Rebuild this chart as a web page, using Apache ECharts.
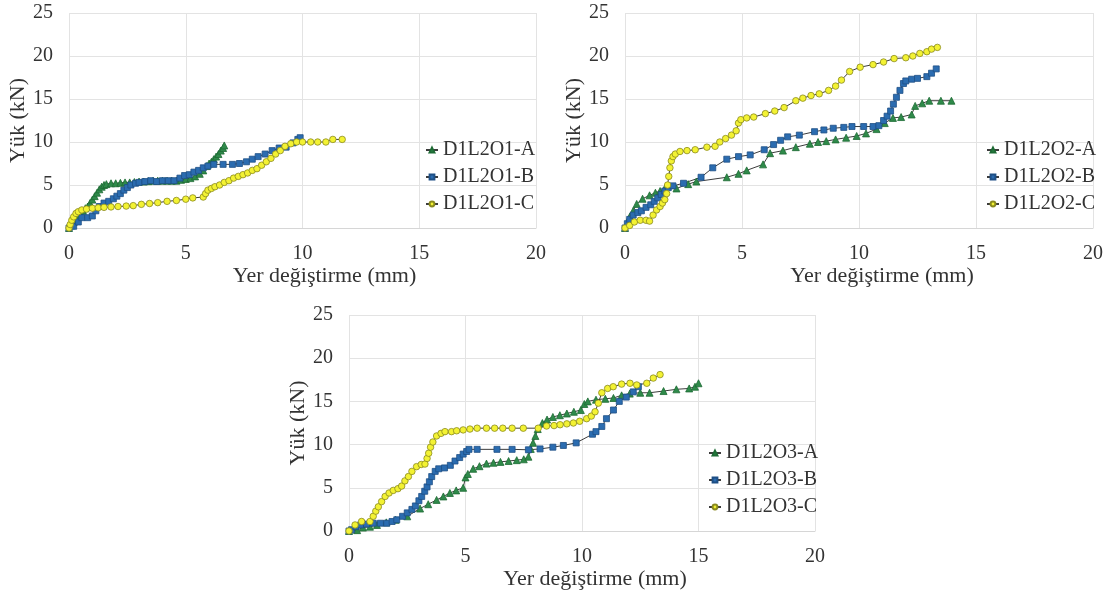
<!DOCTYPE html>
<html>
<head>
<meta charset="utf-8">
<script src="https://cdn.jsdelivr.net/npm/echarts@6/dist/echarts.min.js"></script>
<style>
html,body{margin:0;padding:0;background:#fff;}
#c{width:1110px;height:596px;}
</style>
</head>
<body>
<div id="c"></div>
<script>
// ---- data (displacement mm, load kN) ----
const xTicks = [0, 5, 10, 15, 20];
const yTicks = [0, 5, 10, 15, 20, 25];
const xTitle = 'Yer değiştirme (mm)';
const yTitle = 'Yük (kN)';

const names1 = ['D1L2O1-A', 'D1L2O1-B', 'D1L2O1-C'];
const names2 = ['D1L2O2-A', 'D1L2O2-B', 'D1L2O2-C'];
const names3 = ['D1L2O3-A', 'D1L2O3-B', 'D1L2O3-C'];

const D1L2O1_A = [[0,0],[0.1,0.3],[0.2,0.7],[0.3,1.0],[0.4,1.4],[0.5,1.7],[0.6,2.0],[0.7,2.3],[0.8,2.5],[0.9,2.9],[1.0,3.3],[1.1,3.7],[1.2,4.1],[1.3,4.5],[1.4,4.8],[1.5,5.0],[1.6,5.1],[1.8,5.2],[2.0,5.2],[2.2,5.25],[2.4,5.3],[2.6,5.3],[2.8,5.35],[3.0,5.4],[3.2,5.4],[3.4,5.45],[3.6,5.5],[3.8,5.5],[4.0,5.5],[4.2,5.5],[4.4,5.5],[4.6,5.5],[4.8,5.6],[5.0,5.7],[5.2,5.8],[5.4,6.0],[5.6,6.3],[5.75,6.7],[5.9,7.2],[6.0,7.5],[6.1,7.7],[6.2,8.0],[6.3,8.3],[6.4,8.6],[6.5,9.0],[6.6,9.3],[6.65,9.6]];
const D1L2O1_B = [[0,0],[0.2,0.2],[0.4,0.7],[0.55,1.2],[0.8,1.2],[1.0,1.4],[1.15,2.0],[1.3,2.5],[1.5,2.9],[1.7,3.1],[1.9,3.4],[2.05,3.7],[2.2,4.0],[2.35,4.4],[2.5,4.7],[2.65,5.0],[2.85,5.2],[3.0,5.3],[3.25,5.4],[3.5,5.5],[3.75,5.4],[4.0,5.5],[4.25,5.5],[4.5,5.5],[4.75,5.8],[4.95,6.1],[5.15,6.2],[5.35,6.5],[5.55,6.7],[5.75,7.0],[5.95,7.2],[6.2,7.4],[6.6,7.4],[7.0,7.4],[7.3,7.5],[7.6,7.7],[7.85,8.0],[8.1,8.3],[8.4,8.6],[8.7,9.0],[9.0,9.3],[9.3,9.4],[9.6,9.9],[9.8,10.3],[9.9,10.5]];
const D1L2O1_C = [[0,0],[0.05,0.4],[0.12,0.9],[0.2,1.3],[0.3,1.7],[0.4,1.9],[0.55,2.1],[0.75,2.2],[1.0,2.3],[1.25,2.35],[1.5,2.4],[1.8,2.45],[2.1,2.5],[2.45,2.55],[2.75,2.6],[3.1,2.75],[3.45,2.85],[3.8,2.95],[4.2,3.1],[4.6,3.2],[5.0,3.35],[5.3,3.5],[5.75,3.6],[5.85,4.0],[5.95,4.4],[6.1,4.6],[6.25,4.8],[6.45,5.0],[6.65,5.3],[6.85,5.5],[7.05,5.8],[7.25,6.0],[7.45,6.2],[7.65,6.4],[7.85,6.7],[8.05,6.9],[8.25,7.3],[8.45,7.7],[8.65,8.1],[8.85,8.6],[9.05,9.0],[9.25,9.5],[9.5,9.8],[9.75,10.0],[10.0,10.0],[10.35,10.0],[10.65,10.0],[11.0,10.0],[11.3,10.3],[11.7,10.3]];

const D1L2O2_A = [[0,0],[0.1,0.6],[0.2,1.3],[0.35,2.0],[0.5,2.8],[0.75,3.4],[1.05,3.8],[1.3,4.1],[1.5,4.3],[1.7,4.6],[2.2,4.6],[2.7,5.1],[3.05,5.4],[4.35,5.9],[4.85,6.3],[5.2,6.7],[5.9,7.4],[6.2,8.7],[6.75,9.0],[7.3,9.4],[7.9,9.8],[8.25,10.0],[8.6,10.1],[9.0,10.3],[9.45,10.5],[9.9,10.7],[10.3,11.0],[10.75,11.5],[11.1,12.2],[11.45,12.8],[11.8,12.9],[12.25,13.2],[12.4,14.2],[12.7,14.5],[13.0,14.8],[13.5,14.8],[13.95,14.8]];
const D1L2O2_B = [[0,0],[0.1,0.5],[0.2,1.0],[0.35,1.5],[0.55,1.8],[0.7,2.0],[0.9,2.4],[1.1,2.7],[1.25,3.1],[1.4,3.5],[1.55,3.9],[1.7,4.3],[1.85,4.7],[2.05,4.9],[2.5,5.2],[3.25,5.9],[3.75,7.0],[4.35,8.0],[4.85,8.3],[5.35,8.5],[5.95,9.1],[6.35,9.7],[6.65,10.2],[6.95,10.6],[7.45,10.8],[8.1,11.2],[8.5,11.4],[8.9,11.6],[9.35,11.7],[9.7,11.8],[10.2,11.8],[10.6,11.8],[10.85,11.9],[11.05,12.5],[11.2,13.0],[11.35,13.6],[11.47,14.4],[11.6,15.2],[11.75,16.0],[11.9,16.8],[12.0,17.1],[12.25,17.3],[12.5,17.4],[12.9,17.6],[13.1,18.0],[13.3,18.5]];
const D1L2O2_C = [[0,0],[0.2,0.3],[0.4,0.7],[0.65,0.9],[0.9,0.9],[1.05,0.8],[1.2,1.5],[1.35,2.1],[1.5,2.5],[1.6,2.9],[1.7,3.3],[1.78,4.0],[1.82,5.0],[1.87,6.0],[1.92,7.0],[1.98,7.8],[2.05,8.3],[2.15,8.6],[2.35,8.9],[2.65,9.0],[3.0,9.1],[3.5,9.4],[3.85,9.5],[4.05,10.0],[4.3,10.4],[4.55,10.8],[4.75,11.3],[4.85,12.2],[4.95,12.6],[5.2,12.8],[5.5,12.9],[6.0,13.3],[6.4,13.6],[6.8,14.0],[7.3,14.8],[7.6,15.1],[7.95,15.4],[8.3,15.6],[8.7,16.0],[9.0,16.5],[9.25,17.2],[9.6,18.2],[10.05,18.7],[10.6,19.0],[11.05,19.3],[11.5,19.7],[12.0,19.8],[12.3,20.0],[12.6,20.3],[12.9,20.5],[13.1,20.8],[13.35,21.0]];

const D1L2O3_A = [[0,0],[0.35,0.1],[0.6,0.4],[0.9,0.5],[1.2,0.7],[1.6,1.0],[2.0,1.3],[2.5,1.7],[3.05,2.6],[3.4,3.1],[3.76,3.6],[4.05,4.0],[4.33,4.4],[4.6,4.7],[4.9,5.0],[5.0,6.2],[5.1,6.6],[5.33,7.2],[5.6,7.5],[5.9,7.8],[6.2,7.9],[6.5,8.0],[6.85,8.1],[7.2,8.2],[7.5,8.3],[7.7,8.6],[7.8,9.5],[7.9,10.2],[8.0,11.0],[8.1,11.8],[8.3,12.5],[8.5,12.9],[8.75,13.2],[9.05,13.4],[9.35,13.6],[9.65,13.8],[9.95,14.0],[10.1,14.7],[10.25,15.0],[10.6,15.2],[11.0,15.3],[11.35,15.4],[11.7,15.7],[12.05,15.9],[12.5,16.0],[12.9,16.0],[13.5,16.2],[14.05,16.4],[14.6,16.5],[14.85,16.7],[15.0,17.1]];
const D1L2O3_B = [[0,0],[0.11,0.15],[0.3,0.5],[0.5,0.7],[0.75,0.8],[1.04,0.9],[1.35,0.9],[1.62,0.9],[1.85,1.1],[2.05,1.3],[2.3,1.7],[2.5,2.1],[2.7,2.5],[2.85,2.9],[3.0,3.5],[3.12,4.0],[3.25,4.6],[3.35,5.1],[3.45,5.7],[3.55,6.3],[3.7,6.9],[3.85,7.2],[4.1,7.3],[4.35,7.6],[4.55,8.1],[4.75,8.5],[4.9,8.9],[5.05,9.2],[5.15,9.45],[5.5,9.45],[6.35,9.45],[7.0,9.45],[7.7,9.4],[8.2,9.5],[8.75,9.7],[9.2,9.9],[9.75,10.2],[10.45,11.2],[10.6,11.5],[10.85,12.1],[11.05,13.0],[11.35,14.0],[11.6,15.0],[11.9,15.5],[12.2,16.1],[12.42,16.7]];
const D1L2O3_C = [[0,0],[0.26,0.7],[0.54,1.1],[0.9,1.1],[1.04,1.7],[1.15,2.3],[1.26,2.8],[1.4,3.4],[1.55,4.0],[1.72,4.4],[1.9,4.7],[2.1,4.9],[2.26,5.2],[2.4,5.8],[2.55,6.3],[2.7,6.9],[2.9,7.45],[3.1,7.7],[3.26,7.75],[3.35,8.4],[3.42,9.0],[3.5,9.7],[3.6,10.3],[3.76,11.0],[3.95,11.3],[4.12,11.5],[4.4,11.5],[4.62,11.6],[4.9,11.7],[5.19,11.8],[5.5,11.9],[5.9,11.9],[6.25,11.9],[6.6,11.9],[7.0,11.9],[7.48,11.9],[8.12,11.9],[8.48,12.15],[8.8,12.2],[9.06,12.3],[9.35,12.4],[9.63,12.5],[9.9,12.7],[10.2,13.0],[10.4,13.3],[10.56,13.8],[10.7,14.8],[10.85,16.0],[11.1,16.5],[11.34,16.7],[11.7,17.0],[12.06,17.1],[12.35,16.9],[12.78,17.1],[13.06,17.7],[13.35,18.1]];

// ---- styling / layout ----
const FONT = "'Liberation Serif', 'Times New Roman', serif";
const TXT = '#333333';
const GRIDC = '#e3e3e3';

const panels = [
  {grid:{left:69, top:13, width:467, height:215}, names:names1, data:[D1L2O1_A,D1L2O1_B,D1L2O1_C], legend:{left:420, top:135}, xShift:22},
  {grid:{left:625, top:13, width:468, height:215}, names:names2, data:[D1L2O2_A,D1L2O2_B,D1L2O2_C], legend:{left:981, top:135}, xShift:23},
  {grid:{left:349, top:315, width:466, height:216}, names:names3, data:[D1L2O3_A,D1L2O3_B,D1L2O3_C], legend:{left:703, top:438}, xShift:13}
];

const styles = [
  {symbol:'triangle', size:7, color:'#2f8a4a', border:'#1d6b34'},
  {symbol:'rect', size:6, color:'#2b6cb0', border:'#1e4f85'},
  {symbol:'circle', size:6.5, color:'#f3f233', border:'#8a8a20'}
];

const option = {
  animation:false,
  backgroundColor:'#ffffff',
  textStyle:{fontFamily:FONT},
  grid:[], xAxis:[], yAxis:[], legend:[], series:[]
};

panels.forEach((p, i) => {
  option.grid.push(Object.assign({containLabel:false}, p.grid));
  option.xAxis.push({
    type:'value', gridIndex:i, min:xTicks[0], max:xTicks[xTicks.length-1], interval:xTicks[1]-xTicks[0],
    name:xTitle, nameLocation:'middle', nameGap:36,
    nameTextStyle:{fontFamily:FONT, fontSize:22, color:TXT, padding:[0,0,0,2*p.xShift]},
    axisLine:{show:true, lineStyle:{color:'#d6d6d6', width:1}},
    axisTick:{show:false},
    axisLabel:{fontFamily:FONT, fontSize:20, color:TXT, margin:16},
    splitLine:{show:true, lineStyle:{color:GRIDC, width:1}}
  });
  option.yAxis.push({
    type:'value', gridIndex:i, min:yTicks[0], max:yTicks[yTicks.length-1], interval:yTicks[1]-yTicks[0],
    name:yTitle, nameLocation:'middle', nameGap:40,
    nameTextStyle:{fontFamily:FONT, fontSize:22, color:TXT},
    axisLine:{show:false}, axisTick:{show:false},
    axisLabel:{fontFamily:FONT, fontSize:20, color:TXT, margin:16},
    splitLine:{show:true, lineStyle:{color:GRIDC, width:1}}
  });
  option.legend.push({
    orient:'vertical', left:p.legend.left, top:p.legend.top,
    data:p.names, itemWidth:12, itemHeight:6, itemGap:7,
    textStyle:{fontFamily:FONT, fontSize:20, color:TXT, lineHeight:20}
  });
  p.data.forEach((d, k) => {
    const s = styles[k];
    option.series.push({
      name:p.names[k], type:'line', xAxisIndex:i, yAxisIndex:i,
      data:d, symbol:s.symbol, symbolSize:s.size, showAllSymbol:true,
      lineStyle:{color:'#3c3c3c', width:1},
      itemStyle:{color:s.color, borderColor:s.border, borderWidth:0.8},
      emphasis:{disabled:true}
    });
  });
});

const chart = echarts.init(document.getElementById('c'), null, {renderer:'canvas'});
chart.setOption(option);
</script>
</body>
</html>
